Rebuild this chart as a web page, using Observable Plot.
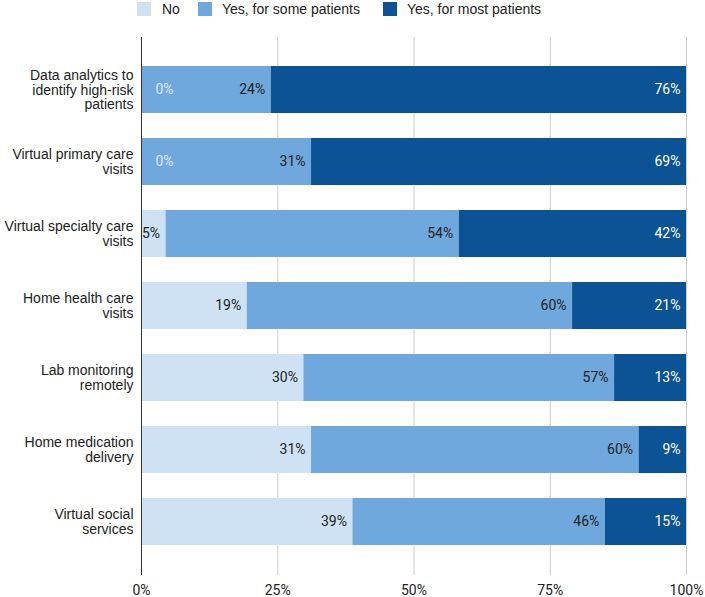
<!DOCTYPE html>
<html>
<head>
<meta charset="utf-8">
<script src="https://cdn.jsdelivr.net/npm/d3@7"></script>
<script src="https://cdn.jsdelivr.net/npm/@observablehq/plot@0.6"></script>
<style>
  body { margin: 0; background: #fff; }
  #wrap { position: relative; width: 705px; height: 597px; }
  #wrap svg { position: absolute; left: 0; top: 0; }
  .lg { position: absolute; font: 14px "Liberation Sans", Arial, sans-serif; color: #222; line-height: 18px; top: 0; }
  .sw { position: absolute; width: 14px; height: 14px; top: 2px; }
</style>
</head>
<body>
<div id="wrap"></div>
<script>
const categories = [
  "Data analytics to\nidentify high-risk\npatients",
  "Virtual primary care\nvisits",
  "Virtual specialty care\nvisits",
  "Home health care\nvisits",
  "Lab monitoring\nremotely",
  "Home medication\ndelivery",
  "Virtual social\nservices"
];
const seriesNames = ["No", "Yes, for some patients", "Yes, for most patients"];
const noValues   = [0, 0, 4.5, 19.4, 29.8, 31.2, 38.8];
const someValues = [23.8, 31.2, 53.8, 59.7, 57.0, 60.1, 46.3];
const mostValues = [76.2, 68.8, 41.7, 20.9, 13.2, 8.7, 14.9];
const seriesColors = ["#cfe2f3", "#6fa8dc", "#0b5394"];
const labelColors = ["#222", "#222", "#ffffff"];
const xTicks = [0, 25, 50, 75, 100];

const rows = [];
const valueLists = [noValues, someValues, mostValues];
categories.forEach((c, i) => {
  seriesNames.forEach((s, j) => {
    rows.push({cat: c, series: s, value: valueLists[j][i], si: j});
  });
});

const chart = Plot.plot({
  width: 705,
  height: 597,
  marginLeft: 141,
  marginRight: 19,
  marginTop: 37,
  marginBottom: 22,
  style: {fontFamily: "'Liberation Sans', Arial, sans-serif", fontSize: "14px", background: "transparent"},
  x: {domain: [0, 100]},
  y: {domain: categories, paddingInner: 0.342, paddingOuter: 0.356},
  color: {domain: seriesNames, range: seriesColors},
  marks: [
    Plot.ruleX(xTicks.filter(d => d > 0), {stroke: "#cccccc", strokeWidth: 1}),
    Plot.barX(rows, Plot.stackX({x: "value", y: "cat", z: "series", fill: "series"})),
    Plot.ruleX([0], {stroke: "#333333", strokeWidth: 1}),
    Plot.text(rows, Plot.stackX2({
      filter: d => d.value > 0,
      x: "value", y: "cat", z: "series",
      text: d => Math.round(d.value) + "%",
      fill: d => labelColors[d.si],
      textAnchor: "end", dx: -6,
      fontFamily: "Roboto", fontSize: 14
    })),
    Plot.text(rows.filter(d => d.value === 0), {
      x: 0, y: "cat",
      text: d => "0%",
      fill: "#dde9f6",
      textAnchor: "start", dx: 14,
      fontFamily: "Roboto", fontSize: 14
    }),
    Plot.axisX({ticks: xTicks, tickFormat: d => d + "%", tickSize: 0, tickPadding: 10, fontFamily: "Roboto", fontSize: 14, fill: "#222", label: null}),
    Plot.axisY({tickSize: 0, tickPadding: 8, fill: "#222", label: null, lineHeight: 1.05})
  ]
});

const wrap = document.getElementById("wrap");
wrap.appendChild(chart);

const legendPos = [{sw: 137, tx: 162}, {sw: 198, tx: 222}, {sw: 383, tx: 407}];
seriesNames.forEach((s, j) => {
  const sw = document.createElement("div");
  sw.className = "sw";
  sw.style.left = legendPos[j].sw + "px";
  sw.style.background = seriesColors[j];
  wrap.appendChild(sw);
  const t = document.createElement("div");
  t.className = "lg";
  t.style.left = legendPos[j].tx + "px";
  t.textContent = s;
  wrap.appendChild(t);
});
</script>
</body>
</html>
